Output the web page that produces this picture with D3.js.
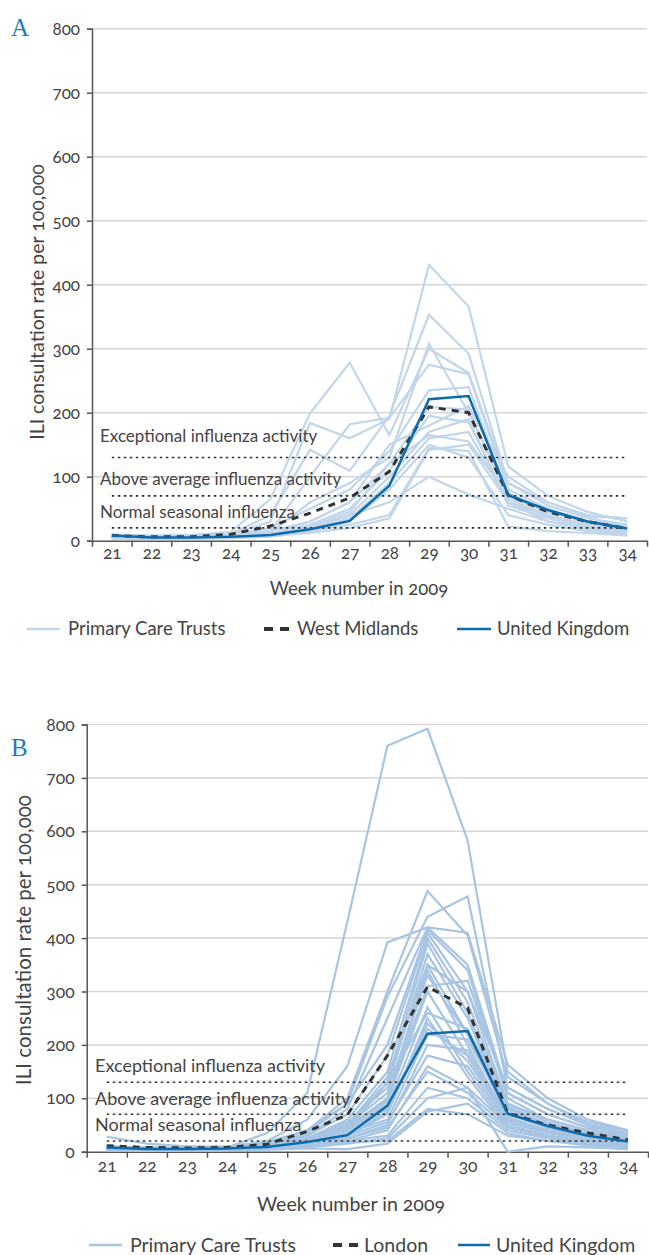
<!DOCTYPE html>
<html>
<head>
<meta charset="utf-8">
<script src="https://cdn.jsdelivr.net/npm/d3@7"></script>
<style>
  html, body { margin: 0; padding: 0; background: #fff; }
  svg { display: block; font-family: Lato, "Open Sans", sans-serif; font-variant-numeric: oldstyle-nums; font-feature-settings: "onum" 1; }
</style>
</head>
<body>
<svg id="chart" width="649" height="1255"></svg>
<script>
const weeks = [21, 22, 23, 24, 25, 26, 27, 28, 29, 30, 31, 32, 33, 34];
const yTicks = [0, 100, 200, 300, 400, 500, 600, 700, 800];

const thresholds = [20, 70, 130];
const thresholdLabels = ['Normal seasonal influenza', 'Above average influenza activity', 'Exceptional influenza activity'];

const ukRate = [8, 5, 5, 6, 9, 18, 31, 86, 221, 226, 71, 48, 30, 19];
const westMidlands = [8, 6, 6, 10, 23, 43, 67, 108, 209, 200, 71, 45, 30, 19];
const london = [11, 8, 7, 8, 14, 38, 69, 180, 309, 269, 72, 50, 35, 22];

const pctWestMidlands = [
  [10, 8, 9, 14, 65, 199, 278, 165, 300, 262, 90, 60, 38, 35],
  [6, 5, 6, 9, 30, 184, 160, 190, 431, 366, 116, 70, 45, 30],
  [8, 6, 7, 10, 40, 142, 109, 195, 353, 292, 90, 55, 35, 25],
  [5, 4, 5, 6, 15, 100, 182, 192, 275, 260, 80, 50, 30, 22],
  [4, 3, 4, 5, 12, 60, 90, 130, 308, 200, 75, 45, 30, 20],
  [7, 6, 7, 9, 20, 50, 80, 140, 235, 240, 70, 45, 28, 18],
  [5, 5, 6, 7, 10, 30, 60, 120, 209, 205, 65, 40, 25, 15],
  [6, 5, 5, 6, 10, 25, 50, 110, 195, 185, 60, 40, 22, 14],
  [4, 4, 4, 5, 8, 20, 40, 100, 170, 190, 55, 35, 20, 12],
  [5, 4, 5, 6, 8, 18, 35, 90, 160, 170, 60, 30, 18, 10],
  [3, 3, 3, 4, 6, 15, 30, 80, 150, 130, 40, 25, 15, 10],
  [6, 5, 5, 6, 8, 20, 40, 60, 100, 72, 50, 30, 20, 15],
  [4, 4, 4, 5, 7, 15, 25, 40, 145, 140, 22, 15, 12, 8],
  [8, 7, 8, 10, 15, 30, 60, 150, 180, 210, 100, 60, 40, 35],
  [5, 5, 5, 6, 9, 22, 45, 120, 165, 155, 70, 45, 30, 25],
  [3, 3, 4, 5, 7, 12, 20, 35, 142, 150, 60, 38, 25, 16]
];

const pctLondon = [
  [8, 6, 6, 8, 35, 110, 430, 760, 792, 583, 150, 90, 50, 35],
  [10, 8, 7, 9, 20, 60, 160, 392, 420, 410, 163, 100, 60, 40],
  [6, 5, 5, 6, 15, 40, 100, 300, 488, 405, 140, 90, 55, 40],
  [5, 4, 4, 6, 12, 35, 90, 290, 440, 478, 120, 80, 50, 30],
  [7, 6, 6, 7, 14, 30, 80, 250, 420, 350, 110, 70, 45, 35],
  [28, 15, 10, 10, 18, 40, 90, 200, 415, 340, 100, 60, 40, 30],
  [5, 5, 5, 6, 10, 30, 70, 180, 410, 300, 90, 55, 35, 25],
  [6, 5, 4, 5, 9, 25, 60, 150, 400, 280, 85, 50, 30, 20],
  [4, 4, 4, 5, 8, 20, 50, 130, 390, 260, 80, 48, 30, 18],
  [8, 6, 6, 7, 12, 25, 55, 120, 370, 250, 70, 45, 30, 22],
  [5, 4, 5, 6, 10, 20, 45, 100, 350, 220, 65, 40, 25, 15],
  [4, 3, 3, 4, 6, 15, 40, 90, 340, 200, 60, 38, 25, 15],
  [6, 5, 5, 6, 10, 20, 45, 95, 300, 180, 55, 35, 22, 14],
  [5, 5, 4, 5, 8, 18, 40, 85, 270, 150, 50, 30, 20, 12],
  [3, 3, 3, 4, 6, 12, 30, 70, 250, 140, 45, 28, 18, 10],
  [5, 4, 4, 5, 8, 15, 35, 60, 220, 210, 75, 45, 30, 20],
  [4, 4, 4, 5, 7, 12, 25, 50, 200, 190, 60, 40, 28, 18],
  [6, 5, 5, 5, 8, 15, 30, 55, 180, 160, 55, 35, 25, 15],
  [3, 3, 3, 3, 5, 10, 20, 40, 160, 120, 50, 30, 20, 12],
  [5, 4, 4, 5, 7, 12, 25, 45, 150, 110, 45, 28, 18, 10],
  [4, 4, 4, 4, 6, 10, 20, 30, 120, 100, 40, 25, 15, 10],
  [3, 3, 3, 3, 5, 8, 15, 25, 100, 120, 0, 10, 8, 5],
  [4, 3, 3, 4, 6, 10, 18, 20, 80, 70, 30, 20, 15, 10],
  [2, 2, 2, 3, 4, 6, 5, 15, 75, 90, 35, 20, 12, 8],
  [6, 5, 5, 6, 10, 25, 50, 110, 330, 220, 90, 60, 40, 30],
  [5, 5, 5, 6, 9, 20, 45, 100, 310, 320, 110, 70, 45, 35],
  [7, 6, 6, 7, 10, 22, 50, 140, 350, 300, 120, 80, 50, 40],
  [4, 4, 4, 5, 8, 15, 35, 80, 240, 170, 60, 40, 25, 18],
  [5, 5, 5, 5, 7, 14, 30, 75, 230, 180, 70, 50, 35, 25],
  [6, 6, 6, 7, 9, 18, 40, 130, 260, 230, 80, 50, 35, 28]
];

const svg = d3.select('#chart');
const TEXT = '#444';
const UK_BLUE = '#0f6aab';
const DASH = '#333';

function styleAxis(axis, p) {
  axis.attr('font-family', null).attr('font-size', null);
  axis.select('.domain').attr('stroke', '#555').attr('stroke-width', 1.5);
  axis.selectAll('.tick line').attr('stroke', '#555').attr('stroke-width', 1.5);
  axis.selectAll('text').attr('font-size', p.tickFont).attr('fill', TEXT);
}

function drawPanel(p) {
  const x = d3.scaleLinear().domain([20.5, 34.5]).range([p.left, p.right]);
  const y = d3.scaleLinear().domain([0, 800]).range([p.bottom, p.top]);
  const g = svg.append('g');

  // grid
  g.append('g')
    .selectAll('line')
    .data(yTicks.filter((d) => d > 0))
    .join('line')
    .attr('x1', p.left)
    .attr('x2', p.right)
    .attr('y1', (d) => y(d))
    .attr('y2', (d) => y(d))
    .attr('stroke', '#d6d6d6')
    .attr('stroke-width', 1.5);

  // y axis
  const yAxis = g.append('g')
    .attr('transform', `translate(${p.left},0)`)
    .call(d3.axisLeft(y).tickValues(yTicks).tickSize(5).tickPadding(7));
  styleAxis(yAxis, p);

  // x axis: ticks between weeks, labels on weeks
  const xTickAxis = g.append('g')
    .attr('transform', `translate(0,${p.bottom})`)
    .call(d3.axisBottom(x).tickValues(d3.range(20.5, 35, 1)).tickSize(6).tickSizeOuter(0).tickFormat(''));
  styleAxis(xTickAxis, p);

  const xLabelAxis = g.append('g')
    .attr('transform', `translate(0,${p.bottom})`)
    .call(d3.axisBottom(x).tickValues(weeks).tickSize(0).tickPadding(p.xPad).tickFormat(d3.format('d')));
  styleAxis(xLabelAxis, p);
  xLabelAxis.select('.domain').remove();

  const line = d3.line().x((d, i) => x(weeks[i])).y((d) => y(d));

  // primary care trusts
  g.append('g')
    .selectAll('path')
    .data(p.pcts)
    .join('path')
    .attr('d', line)
    .attr('fill', 'none')
    .attr('stroke', p.pctColor)
    .attr('stroke-width', 2.2);

  // threshold lines
  g.append('g')
    .selectAll('line')
    .data(thresholds)
    .join('line')
    .attr('x1', x(21))
    .attr('x2', x(34))
    .attr('y1', (d) => y(d))
    .attr('y2', (d) => y(d))
    .attr('stroke', '#333')
    .attr('stroke-width', 1.6)
    .attr('stroke-dasharray', '2.5,3.5');

  g.append('g')
    .selectAll('text')
    .data(thresholds)
    .join('text')
    .attr('x', p.labelX)
    .attr('y', (d, i) => y(d) - p.labelLift[i])
    .attr('font-size', p.labelFont)
    .attr('fill', TEXT)
    .text((d, i) => thresholdLabels[i]);

  // region
  g.append('path')
    .attr('d', line(p.region))
    .attr('fill', 'none')
    .attr('stroke', DASH)
    .attr('stroke-width', 3)
    .attr('stroke-dasharray', '7,6');

  // united kingdom
  g.append('path')
    .attr('d', line(ukRate))
    .attr('fill', 'none')
    .attr('stroke', UK_BLUE)
    .attr('stroke-width', 2.5);

  // panel letter
  svg.append('text')
    .attr('x', p.letterX)
    .attr('y', p.letterY)
    .attr('font-family', '"Liberation Serif", "DejaVu Serif", serif')
    .attr('font-size', 25)
    .attr('fill', '#1f7ac0')
    .text(p.letter);

  // axis titles
  svg.append('text')
    .attr('transform', `translate(${p.yTitleX},${p.yTitleY}) rotate(-90)`)
    .attr('text-anchor', 'middle')
    .attr('font-size', p.yTitleFont)
    .attr('fill', TEXT)
    .text('ILI consultation rate per 100,000');

  svg.append('text')
    .attr('x', p.xTitleX)
    .attr('y', p.xTitleY)
    .attr('text-anchor', 'middle')
    .attr('font-size', p.xTitleFont)
    .attr('fill', TEXT)
    .text('Week number in 2009');

  // legend: [line start, line end, text start] per item
  const lg = svg.append('g').attr('transform', `translate(0,${p.legendY})`);
  const items = [
    { label: 'Primary Care Trusts', pos: p.legendPos[0], stroke: p.pctColor, dash: null, w: 2.5 },
    { label: p.regionName, pos: p.legendPos[1], stroke: DASH, dash: '9,7', w: 4 },
    { label: 'United Kingdom', pos: p.legendPos[2], stroke: UK_BLUE, dash: null, w: 2.5 }
  ];
  items.forEach((it) => {
    lg.append('line')
      .attr('x1', it.pos[0])
      .attr('x2', it.pos[1])
      .attr('y1', 0)
      .attr('y2', 0)
      .attr('stroke', it.stroke)
      .attr('stroke-width', it.w)
      .attr('stroke-dasharray', it.dash);
    lg.append('text')
      .attr('x', it.pos[2])
      .attr('y', 0)
      .attr('dy', '0.35em')
      .attr('font-size', p.legendFont)
      .attr('fill', TEXT)
      .text(it.label);
  });
}

drawPanel({
  letter: 'A', letterX: 11, letterY: 36,
  left: 92, right: 647, top: 28.7, bottom: 540.7,
  tickFont: 17, xPad: 6, labelFont: 17, labelX: 100, labelLift: [10, 11, 16],
  yTitleFont: 19.5, xTitleFont: 18.5, yTitleX: 44, yTitleY: 302, xTitleX: 359, xTitleY: 595,
  pcts: pctWestMidlands, pctColor: '#c1d6ea', region: westMidlands, regionName: 'West Midlands',
  legendY: 629, legendPos: [[27, 60, 68], [264, 289, 297], [457, 491, 497]], legendFont: 18.5
});

drawPanel({
  letter: 'B', letterX: 11, letterY: 756,
  left: 86.7, right: 648, top: 724.5, bottom: 1151.7,
  tickFont: 17.5, xPad: 8, labelFont: 18, labelX: 95, labelLift: [10, 9, 10],
  yTitleFont: 20.5, xTitleFont: 19.5, yTitleX: 31, yTitleY: 940, xTitleX: 351, xTitleY: 1211,
  pcts: pctLondon, pctColor: '#a7c5e3', region: london, regionName: 'London',
  legendY: 1245, legendPos: [[89, 122, 130], [333, 358, 364], [458, 490, 496]], legendFont: 19.5
});
</script>
</body>
</html>
